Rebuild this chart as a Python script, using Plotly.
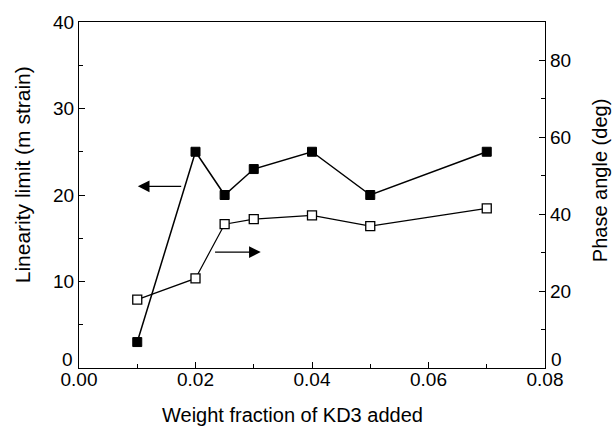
import plotly.graph_objects as go

weight_fraction = [0.01, 0.02, 0.025, 0.03, 0.04, 0.05, 0.07]
linearity_limit = [3, 25, 20, 23, 25, 20, 25]
phase_angle = [17.8, 23.3, 37.4, 38.7, 39.7, 36.9, 41.5]

x_ticks = [0.0, 0.02, 0.04, 0.06, 0.08]
x_tick_labels = ["0.00", "0.02", "0.04", "0.06", "0.08"]
left_ticks = [10, 20, 30, 40]
right_ticks = [20, 40, 60, 80]

FONT = "Liberation Sans, Arial, sans-serif"
TICK_SIZE = 19
TITLE_SIZE = 20

fig = go.Figure()
fig.add_trace(go.Scatter(
    x=weight_fraction, y=linearity_limit, mode="lines+markers",
    line=dict(color="black", width=1.5),
    marker=dict(symbol="square", size=9, color="black", line=dict(color="black", width=1)),
    showlegend=False, yaxis="y"))
fig.add_trace(go.Scatter(
    x=weight_fraction, y=phase_angle, mode="lines+markers",
    line=dict(color="black", width=1.2),
    marker=dict(symbol="square", size=9, color="white", line=dict(color="black", width=1.3)),
    showlegend=False, yaxis="y2"))

axis_common = dict(showgrid=False, zeroline=False, showline=True, linecolor="black",
                   linewidth=1.2, ticks="inside", ticklen=6, tickcolor="black",
                   tickfont=dict(family=FONT, size=TICK_SIZE, color="black"))

fig.update_layout(
    width=612, height=427,
    margin=dict(l=79, r=67, t=20, b=59),
    paper_bgcolor="white", plot_bgcolor="white",
    font=dict(family=FONT, color="black"),
    xaxis=dict(range=[0, 0.08], tickvals=x_ticks, ticktext=x_tick_labels, mirror=True,
               ticklabelstandoff=-6,
               minor=dict(dtick=0.01, ticks="inside", ticklen=4, tickcolor="black"),
               **axis_common),
    yaxis=dict(range=[0, 40], tickvals=left_ticks,
               minor=dict(dtick=5, ticks="inside", ticklen=4, tickcolor="black"),
               **axis_common),
    yaxis2=dict(range=[0, 90], tickvals=right_ticks, overlaying="y", side="right",
                minor=dict(dtick=10, ticks="inside", ticklen=4, tickcolor="black"),
                **axis_common),
)

# axis titles
fig.add_annotation(x=0.458, y=0, xref="paper", yref="paper", text="Weight fraction of KD3 added",
                   showarrow=False, xanchor="center", yanchor="middle", yshift=-47,
                   font=dict(family=FONT, size=TITLE_SIZE, color="black"))
fig.add_annotation(x=0, y=0.557, xref="paper", yref="paper", text="Linearity limit (m strain)",
                   showarrow=False, textangle=-90, xanchor="center", yanchor="middle", xshift=-57,
                   font=dict(family=FONT, size=21, color="black"))
fig.add_annotation(x=1, y=0.54, xref="paper", yref="paper", text="Phase angle (deg)",
                   showarrow=False, textangle=-90, xanchor="center", yanchor="middle", xshift=55,
                   font=dict(family=FONT, size=TITLE_SIZE, color="black"))

# zero labels sitting just above the bottom axis corners
fig.add_annotation(x=0, y=0, xref="paper", yref="paper", text="0", showarrow=False,
                   xanchor="right", yanchor="bottom", xshift=-4, yshift=-4,
                   font=dict(family=FONT, size=TICK_SIZE, color="black"))
fig.add_annotation(x=1, y=0, xref="paper", yref="paper", text="0", showarrow=False,
                   xanchor="left", yanchor="bottom", xshift=4, yshift=-4,
                   font=dict(family=FONT, size=TICK_SIZE, color="black"))

# arrows pointing to the axes
fig.add_annotation(x=0.0101, y=21, ax=0.0178, ay=21, xref="x", yref="y", axref="x", ayref="y",
                   text="", showarrow=True, arrowhead=2, arrowsize=1.8, arrowwidth=1.3, arrowcolor="black")
fig.add_annotation(x=0.0312, y=13.4, ax=0.0231, ay=13.4, xref="x", yref="y", axref="x", ayref="y",
                   text="", showarrow=True, arrowhead=2, arrowsize=1.8, arrowwidth=1.3, arrowcolor="black")

fig.write_html("out.html")
